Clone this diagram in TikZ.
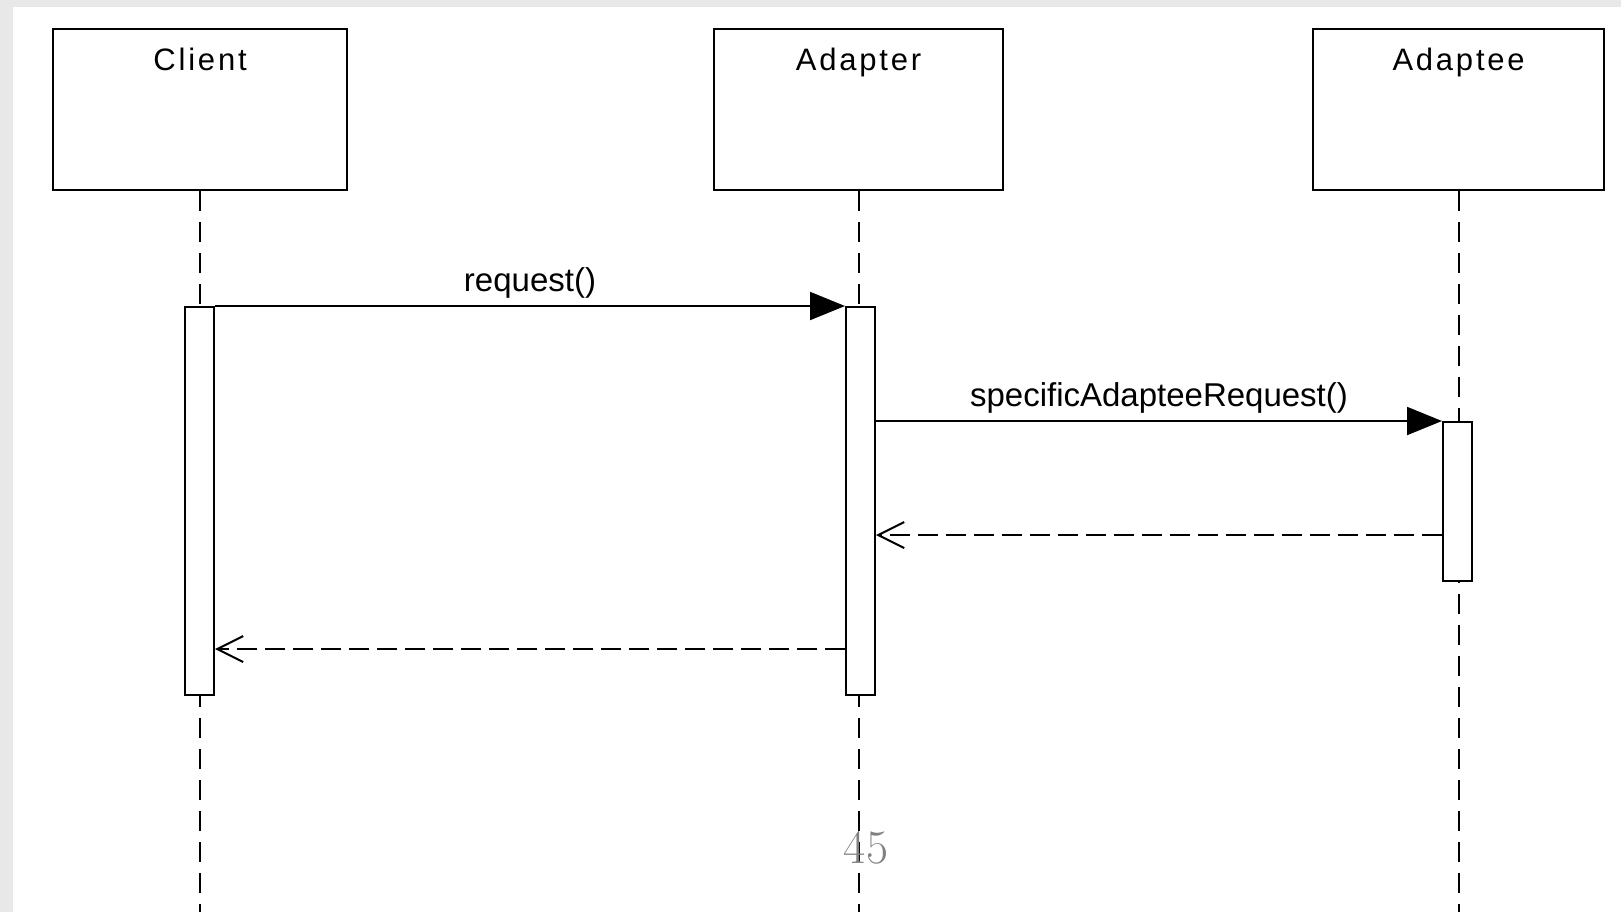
\documentclass[tikz,border=0pt]{standalone}
\usepackage{fontspec}
\setsansfont{Liberation Sans}
\usetikzlibrary{arrows.meta,calc}
\begin{document}
\begin{tikzpicture}[x=0.5pt,y=-0.5pt,
  objbox/.style={draw=black,line width=1.1pt,fill=white,anchor=north west,inner sep=0pt},
  actbox/.style={draw=black,line width=1pt,fill=white,anchor=north west,inner sep=0pt,minimum width=14.5pt},
  title/.style={font=\sffamily\fontsize{15.5}{18}\selectfont\addfontfeature{LetterSpace=9},anchor=base,inner sep=0pt},
  msglabel/.style={font=\sffamily\fontsize{16.5}{18}\selectfont,anchor=base,inner sep=0pt},
  lifeline/.style={line width=1pt,dash pattern=on 10pt off 5.5pt},
  call/.style={line width=1pt,-{Triangle[length=17.5pt,width=14pt]}},
  reply/.style={line width=1pt,dash pattern=on 10pt off 4pt,-{Straight Barb[length=13pt,width=13pt,line width=1pt]}},
]
\useasboundingbox (0,0) rectangle (1621,912);
\fill[gray!18] (0,0) rectangle (1621,912);
\fill[white] (13,7) rectangle (1621,912);

% object boxes
\node[objbox,minimum width=147pt,minimum height=80.5pt] (cl) at (52,28) {};
\node[objbox,minimum width=144.5pt,minimum height=80.5pt] (ad) at (713,28) {};
\node[objbox,minimum width=145.5pt,minimum height=80.5pt] (ae) at (1312,28) {};
\node[title] (clt) at ([yshift=-21pt]cl.north) {Client};
\node[title] (adt) at ([yshift=-21pt]ad.north) {Adapter};
\node[title] (aet) at ([yshift=-21pt]ae.north) {Adaptee};

% lifeline ends
\coordinate (clend) at (cl.south |- 0,912);
\coordinate (adend) at (ad.south |- 0,912);
\coordinate (aeend) at (ae.south |- 0,912);
\draw[lifeline] (cl.south) -- (clend);
\draw[lifeline] (ad.south) -- (adend);
\draw[lifeline] (ae.south) -- (aeend);

% activations
\node[actbox,minimum height=194pt] (ca) at (184,306) {};
\node[actbox,minimum height=194pt] (aa) at (845,306) {};
\node[actbox,minimum height=79.5pt] (ea) at (1442,421) {};

% messages
\draw[call] (ca.north east) -- (aa.north west);
\node[msglabel] (l1) at ($(ca.north east)!0.5!(aa.north west)+(0,-15)$) {request()};
\coordinate (s2) at (aa.east |- ea.north);
\draw[call] (s2) -- (ea.north west);
\node[msglabel] (l2) at ($(s2)!0.5!(ea.north west)+(0,-15)$) {specificAdapteeRequest()};

\coordinate (r1s) at (ea.west |- 0,535);
\coordinate (r1e) at (aa.east |- 0,535);
\draw[reply] (r1s) -- (r1e);
\coordinate (r2s) at (aa.west |- 0,649);
\coordinate (r2e) at (ca.east |- 0,649);
\draw[reply] (r2s) -- (r2e);

% page number
\node[anchor=base,inner sep=0pt,text=gray,font=\fontsize{24}{26}\selectfont] (pg) at (866,863) {45};
\end{tikzpicture}
\end{document}
